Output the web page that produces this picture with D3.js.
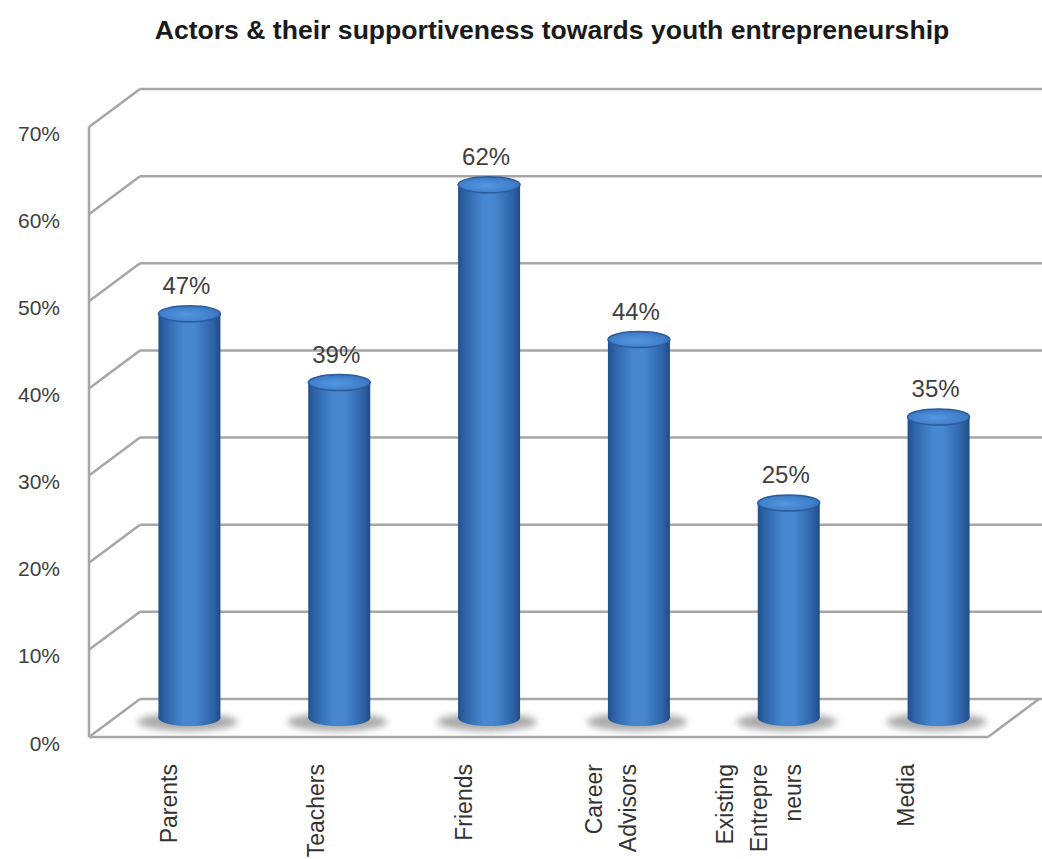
<!DOCTYPE html>
<html>
<head>
<meta charset="utf-8">
<script src="https://cdn.jsdelivr.net/npm/d3@7"></script>
<style>
  body { margin: 0; background: #ffffff; }
  svg { display: block; }
</style>
</head>
<body>
<svg id="chart" width="1042" height="859"></svg>
<script>
// Survey results: share of respondents who find each actor supportive
const categories = ["Parents", "Teachers", "Friends", "Career Advisors", "Existing Entrepreneurs", "Media"];
const categoryLines = [["Parents"], ["Teachers"], ["Friends"], ["Career", "Advisors"], ["Existing", "Entrepre", "neurs"], ["Media"]];
const values = [0.47, 0.39, 0.62, 0.44, 0.25, 0.35];
const yTicks = [0, 0.1, 0.2, 0.3, 0.4, 0.5, 0.6, 0.7];
const yTickLabels = ["0%", "10%", "20%", "30%", "40%", "50%", "60%", "70%"];
const title = "Actors & their supportiveness towards youth entrepreneurship";

const FONT = "'Liberation Sans', Arial, sans-serif";
const svg = d3.select("#chart");
const defs = svg.append("defs");

// Cylinder shading
const bodyGrad = defs.append("linearGradient").attr("id", "bodyGrad")
  .attr("x1", "0%").attr("x2", "100%").attr("y1", "0%").attr("y2", "0%");
[["0%", "#234f8b"], ["10%", "#2d62a6"], ["40%", "#4687d0"], ["58%", "#4887d0"], ["88%", "#2e63a7"], ["100%", "#224c86"]]
  .forEach(([o, c]) => bodyGrad.append("stop").attr("offset", o).attr("stop-color", c));

const topGrad = defs.append("radialGradient").attr("id", "topGrad")
  .attr("cx", "45%").attr("cy", "55%").attr("r", "60%");
[["0%", "#5597e0"], ["70%", "#4180cb"], ["100%", "#3670b8"]]
  .forEach(([o, c]) => topGrad.append("stop").attr("offset", o).attr("stop-color", c));

defs.append("filter").attr("id", "soft").attr("x", "-50%").attr("y", "-100%")
  .attr("width", "200%").attr("height", "300%")
  .append("feGaussianBlur").attr("stdDeviation", 3.5);

// 3D frame geometry
const xFront = 89, depthX = 51, depthY = -38, xRight = 1042, floorRight = 988;
const yFront = d3.scaleLinear().domain([0, 0.7]).range([737, 127]);
const gridColor = "#a6a6a6";

const grid = svg.append("g").attr("stroke", gridColor).attr("stroke-width", 2.5).attr("fill", "none");

// back wall gridlines
grid.selectAll("line.back").data(yTicks).join("line").attr("class", "back")
  .attr("x1", xFront + depthX).attr("x2", xRight)
  .attr("y1", d => yFront(d) + depthY).attr("y2", d => yFront(d) + depthY);

// side wall connectors
grid.selectAll("line.side").data(yTicks).join("line").attr("class", "side")
  .attr("x1", xFront).attr("x2", xFront + depthX)
  .attr("y1", d => yFront(d)).attr("y2", d => yFront(d) + depthY);

// vertical axis and floor front edge
grid.append("line").attr("x1", xFront).attr("x2", xFront)
  .attr("y1", yFront(0.7)).attr("y2", yFront(0));
grid.append("line").attr("x1", xFront).attr("x2", floorRight)
  .attr("y1", yFront(0)).attr("y2", yFront(0));
grid.append("line").attr("x1", floorRight).attr("x2", floorRight + depthX)
  .attr("y1", yFront(0)).attr("y2", yFront(0) + depthY);

// y tick labels
svg.append("g").selectAll("text").data(yTicks).join("text")
  .attr("x", 60).attr("y", d => yFront(d) + 6)
  .attr("text-anchor", "end").attr("dominant-baseline", "central")
  .attr("font-family", FONT).attr("font-size", 21).attr("fill", "#404040")
  .text((d, i) => yTickLabels[i]);

// Bars sit on the mid-depth plane
const xBar = d3.scaleBand().domain(categories).range([xFront + depthX / 2 + 0, floorRight + depthX / 2]);
const yBar = d3.scaleLinear().domain([0, 0.7]).range([718, 116]);
const rx = 31, ry = 8;

const bars = svg.append("g").selectAll("g").data(categories).join("g")
  .attr("transform", d => `translate(${xBar(d) + xBar.bandwidth() / 2},0)`);

bars.append("ellipse").attr("cx", -2).attr("cy", yBar(0) + 4).attr("rx", 50).attr("ry", 9)
  .attr("fill", "#8c8c8c").attr("opacity", 0.75).attr("filter", "url(#soft)");

bars.append("rect")
  .attr("x", -rx).attr("width", 2 * rx)
  .attr("y", (d, i) => yBar(values[i]))
  .attr("height", (d, i) => yBar(0) - yBar(values[i]))
  .attr("fill", "url(#bodyGrad)");

bars.append("ellipse").attr("cx", 0).attr("cy", yBar(0)).attr("rx", rx).attr("ry", ry)
  .attr("fill", "url(#bodyGrad)");

bars.append("ellipse").attr("cx", 0).attr("cy", (d, i) => yBar(values[i]))
  .attr("rx", rx).attr("ry", ry)
  .attr("fill", "url(#topGrad)").attr("stroke", "#2b5c9d").attr("stroke-width", 1.5);

// value labels
bars.append("text")
  .attr("x", -3).attr("y", (d, i) => yBar(values[i]) - 20)
  .attr("text-anchor", "middle")
  .attr("font-family", FONT).attr("font-size", 24).attr("fill", "#404040")
  .text((d, i) => d3.format(".0%")(values[i]));

// rotated category labels along the floor front edge
const xLab = d3.scaleBand().domain(categories).range([95, 980]);
const lineGap = 34;
const labels = svg.append("g").selectAll("g").data(categories).join("g")
  .attr("transform", d => `translate(${xLab(d) + xLab.bandwidth() / 2},764)`);
labels.each(function (d, i) {
  const lines = categoryLines[i];
  d3.select(this).selectAll("text").data(lines).join("text")
    .attr("transform", (t, j) => `translate(${(j - (lines.length - 1) / 2) * lineGap},0) rotate(-90)`)
    .attr("text-anchor", "end").attr("dominant-baseline", "central")
    .attr("font-family", FONT).attr("font-size", 23).attr("fill", "#333333")
    .text(t => t);
});

// title, sized to span its line
const titleText = svg.append("text")
  .attr("x", 552).attr("y", 30)
  .attr("text-anchor", "middle").attr("dominant-baseline", "central")
  .attr("font-family", FONT).attr("font-weight", "bold").attr("font-size", 20)
  .attr("fill", "#1a1a1a").text(title);
const w = titleText.node().getComputedTextLength();
titleText.attr("font-size", 20 * 795 / w);
</script>
</body>
</html>
